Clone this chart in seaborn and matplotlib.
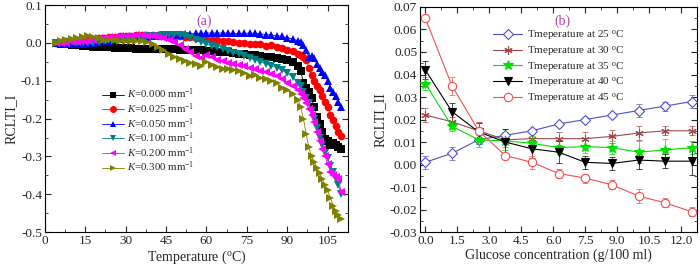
import matplotlib
matplotlib.use("Agg")
import matplotlib.pyplot as plt
import matplotlib.ticker as mticker
import pandas as pd
import seaborn as sns

# ---- panel (a) data ----
temperature = [4, 6, 8, 10, 12, 14, 16, 18, 20, 22, 24, 26, 28, 30, 32, 34, 36, 38, 40, 42,
               44, 46, 48, 50, 52, 54, 56, 58, 60, 62, 64, 66, 68, 70, 72, 74, 76, 78, 80, 82,
               84, 86, 88, 90, 92, 94, 95, 96, 97, 98, 99, 100, 101, 102, 103, 104, 105, 106,
               107, 108, 109, 110]

k_000 = [0.000, -0.002, -0.003, -0.005, -0.006, -0.008, -0.009, -0.010, -0.011, -0.012, -0.012,
         -0.013, -0.013, -0.014, -0.014, -0.015, -0.015, -0.016, -0.016, -0.016, -0.017, -0.017,
         -0.017, -0.018, -0.018, -0.019, -0.019, -0.020, -0.021, -0.022, -0.023, -0.024, -0.025,
         -0.027, -0.028, -0.030, -0.031, -0.033, -0.035, -0.036, -0.038, -0.040, -0.043, -0.046,
         -0.050, -0.062, -0.075, -0.105, -0.120, -0.130, -0.145, -0.170, -0.195, -0.215, -0.235,
         -0.255, -0.260, -0.270, -0.265, -0.270, -0.275, -0.280]
k_025 = [0.000, 0.002, 0.004, 0.006, 0.007, 0.008, 0.010, 0.011, 0.012, 0.013, 0.015, 0.016,
         0.017, 0.018, 0.019, 0.020, 0.020, 0.020, 0.021, 0.020, 0.020, 0.019, 0.018, 0.017,
         0.016, 0.015, 0.014, 0.012, 0.011, 0.009, 0.008, 0.006, 0.004, 0.002, 0.001, 0.000,
         -0.002, -0.004, -0.003, -0.008, -0.006, -0.010, -0.014, -0.018, -0.022, -0.028, -0.032,
         -0.038, -0.045, -0.065, -0.085, -0.100, -0.115, -0.125, -0.140, -0.155, -0.170, -0.190,
         -0.205, -0.220, -0.235, -0.245]
k_050 = [0.000, -0.001, -0.002, -0.003, -0.003, -0.002, -0.001, 0.000, 0.002, 0.004, 0.006,
         0.008, 0.010, 0.011, 0.013, 0.014, 0.015, 0.016, 0.017, 0.018, 0.019, 0.020, 0.021,
         0.022, 0.023, 0.024, 0.025, 0.025, 0.026, 0.026, 0.026, 0.026, 0.026, 0.025, 0.025,
         0.025, 0.026, 0.025, 0.024, 0.022, 0.021, 0.019, 0.017, 0.014, 0.010, 0.006, 0.003,
         -0.005, -0.020, -0.038, -0.035, -0.040, -0.055, -0.065, -0.078, -0.085, -0.100, -0.118,
         -0.130, -0.140, -0.155, -0.170]
k_100 = [0.000, 0.001, 0.002, 0.002, 0.001, 0.000, -0.001, 0.001, 0.003, 0.005, 0.007, 0.009,
         0.011, 0.012, 0.013, 0.015, 0.016, 0.017, 0.018, 0.019, 0.020, 0.021, 0.021, 0.020,
         0.017, 0.012, 0.007, 0.002, -0.003, -0.008, -0.012, -0.017, -0.021, -0.026, -0.030,
         -0.034, -0.040, -0.045, -0.050, -0.055, -0.060, -0.065, -0.072, -0.080, -0.090, -0.105,
         -0.115, -0.130, -0.145, -0.160, -0.180, -0.200, -0.225, -0.250, -0.270, -0.290, -0.305,
         -0.325, -0.340, -0.360, -0.375, -0.400]
k_200 = [0.000, 0.001, 0.001, 0.002, 0.003, 0.004, 0.005, 0.008, 0.012, 0.014, 0.015, 0.016,
         0.017, 0.018, 0.019, 0.021, 0.020, 0.019, 0.018, 0.016, 0.013, 0.008, 0.002, -0.005,
         -0.015, -0.025, -0.035, -0.040, -0.032, -0.036, -0.045, -0.048, -0.052, -0.055, -0.058,
         -0.062, -0.065, -0.070, -0.073, -0.078, -0.083, -0.088, -0.095, -0.105, -0.115, -0.125,
         -0.135, -0.145, -0.160, -0.175, -0.190, -0.210, -0.235, -0.260, -0.280, -0.300, -0.320,
         -0.340, -0.350, -0.355, -0.360, -0.395]
k_300 = [0.000, 0.005, 0.008, 0.011, 0.014, 0.016, 0.018, 0.016, 0.012, 0.009, 0.008, 0.007,
         0.006, 0.006, 0.006, 0.005, 0.004, 0.002, -0.004, -0.012, -0.020, -0.030, -0.038,
         -0.042, -0.047, -0.052, -0.055, -0.060, -0.050, -0.058, -0.063, -0.068, -0.070, -0.072,
         -0.075, -0.080, -0.088, -0.085, -0.092, -0.095, -0.100, -0.105, -0.120, -0.125, -0.135,
         -0.150, -0.170, -0.200, -0.240, -0.275, -0.300, -0.315, -0.330, -0.345, -0.360, -0.375,
         -0.390, -0.410, -0.430, -0.445, -0.455, -0.465]

k_labels = ["$K$=0.000 mm$^{-1}$", "$K$=0.025 mm$^{-1}$", "$K$=0.050 mm$^{-1}$",
            "$K$=0.100 mm$^{-1}$", "$K$=0.200 mm$^{-1}$", "$K$=0.300 mm$^{-1}$"]

# ---- panel (b) data ----
glucose = [0.0, 1.25, 2.5, 3.75, 5.0, 6.25, 7.5, 8.75, 10.0, 11.25, 12.5]
t25 = [0.001, 0.005, 0.011, 0.013, 0.015, 0.018, 0.020, 0.022, 0.024, 0.026, 0.028]
t30 = [0.022, 0.019, 0.015, 0.011, 0.0115, 0.0115, 0.0115, 0.0125, 0.014, 0.015, 0.015]
t35 = [0.036, 0.017, 0.011, 0.0105, 0.0095, 0.0075, 0.008, 0.0075, 0.0055, 0.0065, 0.0075]
t40 = [0.042, 0.0235, 0.0145, 0.010, 0.007, 0.0055, 0.001, 0.0005, 0.002, 0.0015, 0.0015]
t45 = [0.065, 0.035, 0.015, 0.004, 0.001, -0.004, -0.006, -0.009, -0.014, -0.017, -0.021]
e25 = [0.003, 0.003, 0.002, 0.003, 0.001, 0.001, 0.001, 0.001, 0.003, 0.002, 0.003]
e30 = [0.003, 0.002, 0.004, 0.003, 0.003, 0.003, 0.003, 0.003, 0.003, 0.002, 0.002]
e35 = [0.003, 0.002, 0.003, 0.004, 0.003, 0.003, 0.003, 0.003, 0.005, 0.005, 0.003]
e40 = [0.004, 0.004, 0.004, 0.006, 0.004, 0.005, 0.003, 0.003, 0.004, 0.003, 0.006]
e45 = [0.001, 0.004, 0.004, 0.001, 0.003, 0.002, 0.002, 0.002, 0.003, 0.002, 0.002]
t_labels = ["Tmeperature at 25 $^{\\rm o}$C", "Tmeperature at 30 $^{\\rm o}$C",
            "Tmeperature at 35 $^{\\rm o}$C", "Tmeperature at 40 $^{\\rm o}$C",
            "Tmeperature at 45 $^{\\rm o}$C"]

sns.set_theme(style="ticks")
plt.rcParams["font.family"] = ["Liberation Serif", "DejaVu Serif"]
plt.rcParams["mathtext.fontset"] = "custom"
plt.rcParams["mathtext.rm"] = "Liberation Serif"
plt.rcParams["mathtext.it"] = "Liberation Serif:italic"
plt.rcParams["font.size"] = 9.5

fig = plt.figure(figsize=(7.0, 2.68), dpi=100)
ax1 = fig.add_axes([0.064, 0.134, 0.433, 0.847])
ax2 = fig.add_axes([0.600, 0.134, 0.396, 0.840])

# panel (a)
df_a = pd.concat([pd.DataFrame({"T": temperature, "v": vals, "K": lab})
                  for vals, lab in zip([k_000, k_025, k_050, k_100, k_200, k_300], k_labels)])
colors_a = ["black", "#ff0000", "#0000ff", "#008080", "#ff00ff", "#808000"]
markers_a = ["s", "o", "^", "v", "<", ">"]
sns.lineplot(data=df_a, x="T", y="v", hue="K", style="K", palette=colors_a,
             markers=markers_a, dashes=False, markersize=5.5, markeredgewidth=0,
             linewidth=0.6, ax=ax1, legend=True)
ax1.set_xlim(0, 112.5)
ax1.set_ylim(-0.5, 0.1)
ax1.set_xticks([0, 15, 30, 45, 60, 75, 90, 105])
ax1.set_yticks([-0.5, -0.4, -0.3, -0.2, -0.1, 0.0, 0.1])
ax1.set_yticklabels(["-0.5", "-0.4", "-0.3", "-0.2", "-0.1", "0.0", "0.1"])
ax1.set_xlabel("Temperature ($^{\\rm o}$C)", fontsize=10, labelpad=1)
ax1.set_ylabel("RCLTI_I", fontsize=10, labelpad=2)
ax1.text(59, 0.058, "(a)", color="#b040b0", fontsize=10, ha="center", va="center")
leg1 = ax1.legend(loc="upper left", bbox_to_anchor=(0.19, 0.64), frameon=False, fontsize=7.8,
                  handlelength=2.0, handletextpad=0.3, labelspacing=0.0, borderaxespad=0,
                  borderpad=0)
for h in leg1.legend_handles:
    h.set_markersize(5)

# panel (b)
series_b = [t25, t30, t35, t40, t45]
errs_b = [e25, e30, e35, e40, e45]
colors_b = ["#5050c8", "#a04848", "#00e000", "black", "#f05050"]
markers_b = ["D", (6, 2, 0), "*", "v", "o"]
faces_b = ["white", "#a04848", "#00e000", "black", "white"]
sizes_b = [5, 6, 7, 6, 6]
for vals, err, c in zip(series_b, errs_b, colors_b):
    ax2.errorbar(glucose, vals, yerr=err, fmt="none", ecolor=c, alpha=0.7, elinewidth=0.7,
                 capsize=2.5, capthick=0.7, zorder=1)
for vals, lab, c, m, fc, ms in zip(series_b, t_labels, colors_b, markers_b, faces_b, sizes_b):
    sns.lineplot(x=glucose, y=vals, color=c, marker=m, markersize=ms, markerfacecolor=fc,
                 markeredgecolor=c, markeredgewidth=0.8, linewidth=0.8, label=lab, ax=ax2,
                 zorder=3)
ax2.set_xlim(-0.25, 12.75)
ax2.set_ylim(-0.03, 0.07)
ax2.set_xticks([0, 1.5, 3, 4.5, 6, 7.5, 9, 10.5, 12])
ax2.set_xticklabels(["0.0", "1.5", "3.0", "4.5", "6.0", "7.5", "9.0", "10.5", "12.0"])
ax2.set_yticks([-0.03, -0.02, -0.01, 0.0, 0.01, 0.02, 0.03, 0.04, 0.05, 0.06, 0.07])
ax2.set_yticklabels(["-0.03", "-0.02", "-0.01", "0.00", "0.01", "0.02", "0.03", "0.04",
                     "0.05", "0.06", "0.07"])
ax2.set_xlabel("Glucose concentration (g/100 ml)", fontsize=10, labelpad=1)
ax2.set_ylabel("RCLTI_II", fontsize=10, labelpad=2)
ax2.text(6.45, 0.0635, "(b)", color="#b040b0", fontsize=10, ha="center", va="center")
ax2.legend(loc="upper left", bbox_to_anchor=(0.264, 0.905), frameon=False,
           fontsize=8, handlelength=2.6, handletextpad=0.4, labelspacing=0.15,
           borderaxespad=0, borderpad=0)

for ax in (ax1, ax2):
    ax.xaxis.set_minor_locator(mticker.AutoMinorLocator(2))
    ax.yaxis.set_minor_locator(mticker.AutoMinorLocator(2))
    ax.tick_params(which="both", direction="in", top=True, right=True, labelsize=9.5, pad=2)
    ax.tick_params(which="major", length=4, width=0.8)
    ax.tick_params(which="minor", length=2, width=0.6)
    for s in ax.spines.values():
        s.set_linewidth(0.8)
        s.set_color("black")

fig.savefig("out.png", dpi=100)
